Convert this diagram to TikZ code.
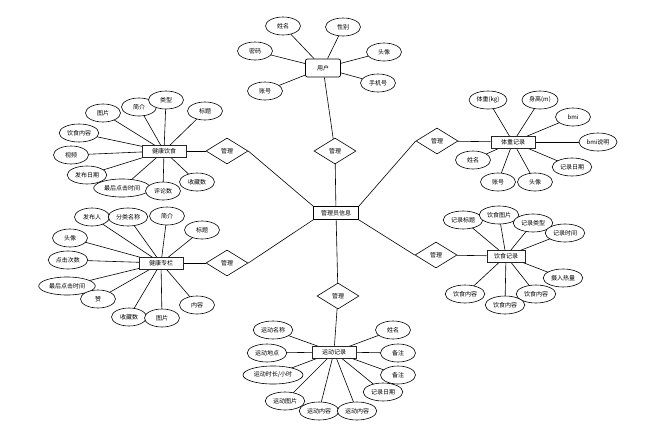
\documentclass[tikz,border=0pt]{standalone}
\usepackage{fontspec}
\setmainfont{Noto Sans CJK SC}
\usetikzlibrary{shapes.geometric,backgrounds}
\begin{document}
\begin{tikzpicture}[x=1pt,y=-1pt,
 txt/.style={font=\fontsize{6}{7}\selectfont},
 attr/.style={ellipse,draw,fill=white,txt,inner xsep=2pt,inner ysep=1pt,minimum width=35pt,minimum height=18pt,line width=0.6pt},
 ent/.style={rectangle,draw=black!85,line width=1pt,fill=white,txt,minimum width=44pt,minimum height=12pt,inner sep=1pt},
 rel/.style={diamond,draw,fill=white,txt,minimum width=42pt,minimum height=26pt,inner sep=0pt,line width=0.6pt},
 conn/.style={line width=0.6pt},
 thickconn/.style={line width=0.9pt}
]
\useasboundingbox (0,0) rectangle (649,429);

% central
\node[rectangle,draw,line width=0.8pt,fill=white,txt,minimum width=45pt,minimum height=13pt,inner sep=1pt] (admin) at (336,213) {管理员信息};

% user
\node[rectangle,rounded corners=2pt,draw,line width=0.7pt,fill=white,txt,minimum width=35pt,minimum height=18pt] (user) at (323,68) {用户};
\node[attr] (u1) at (283,26) {姓名};
\node[attr] (u2) at (343,27) {性别};
\node[attr] (u3) at (255,51) {密码};
\node[attr] (u4) at (384,52) {头像};
\node[attr] (u5) at (265,91) {账号};
\node[attr] (u6) at (378,83) {手机号};
\node[rel] (d1) at (335,151) {管理};

% healthy diet
\node[ent] (hd) at (164,151) {健康饮食};
\node[rel] (d2) at (227,151) {管理};
\node[attr] (a1) at (103,113) {图片};
\node[attr] (a2) at (139,107) {简介};
\node[attr] (a3) at (166,100) {类型};
\node[attr] (a4) at (205,111) {标题};
\node[attr] (a5) at (79,133) {饮食内容};
\node[attr] (a6) at (71,155) {视频};
\node[attr] (a7) at (87,175) {发布日期};
\node[attr] (a8) at (122,188) {最后点击时间};
\node[attr] (a9) at (163,191) {评论数};
\node[attr] (a10) at (197,182) {收藏数};

% health column
\node[ent] (hc) at (161,263) {健康专栏};
\node[rel] (d3) at (227,263) {管理};
\node[attr] (b1) at (92,217) {发布人};
\node[attr] (b2) at (128,217) {分类名称};
\node[attr] (b3) at (167,216) {简介};
\node[attr] (b4) at (202,230) {标题};
\node[attr] (b5) at (70,238) {头像};
\node[attr] (b6) at (68,260) {点击次数};
\node[attr] (b7) at (67,286) {最后点击时间};
\node[attr] (b8) at (98,299) {赞};
\node[attr] (b9) at (129,317) {收藏数};
\node[attr] (b10) at (162,318) {图片};
\node[attr] (b11) at (197,305) {内容};

% weight record
\node[ent] (wr) at (513,142) {体重记录};
\node[rel] (d4) at (437,141) {管理};
\node[attr] (c1) at (488,100) {体重(kg)};
\node[attr] (c2) at (540,100) {身高(m)};
\node[attr] (c3) at (573,117) {bmi};
\node[attr] (c4) at (598,142) {bmi说明};
\node[attr] (c5) at (572,167) {记录日期};
\node[attr] (c6) at (473,160) {姓名};
\node[attr] (c7) at (498,182) {账号};
\node[attr] (c8) at (535,182) {头像};

% diet record
\node[ent,minimum width=38pt] (dr) at (506,256) {饮食记录};
\node[rel] (d5) at (436,255) {管理};
\node[attr] (e1) at (463,220) {记录标题};
\node[attr] (e2) at (499,215) {饮食图片};
\node[attr] (e3) at (533,223) {记录类型};
\node[attr] (e4) at (565,233) {记录时间};
\node[attr] (e5) at (563,278) {摄入热量};
\node[attr] (e6) at (465,294) {饮食内容};
\node[attr] (e8) at (536,294) {饮食内容};
\node[attr] (e7) at (505,305) {饮食内容};

% exercise record
\node[ent] (er) at (334,352) {运动记录};
\node[rel] (d6) at (338,296) {管理};
\node[attr] (f1) at (273,330) {运动名称};
\node[attr] (f2) at (267,353) {运动地点};
\node[attr] (f3) at (273,375) {运动时长/小时};
\node[attr] (f4) at (285,401) {运动图片};
\node[attr] (f5) at (319,411) {运动内容};
\node[attr] (f6) at (357,411) {运动内容};
\node[attr] (f7) at (383,392) {记录日期};
\node[attr] (f8) at (393,330) {姓名};
\node[attr] (f9) at (398,353) {备注};
\node[attr] (f10) at (398,375) {备注};

\begin{scope}[on background layer]
 \foreach \i in {1,...,6} \draw[conn] (user) -- (u\i);
 \draw[conn] (user) -- (d1);
 \draw[conn] (d1) -- (admin);
 \foreach \i in {1,...,10} \draw[conn] (hd.center) -- (a\i.center);
 \draw[thickconn] (hd) -- (d2);
 \draw[conn] (d2.east) -- (admin.north west);
 \foreach \i in {1,...,11} \draw[conn] (hc.center) -- (b\i.center);
 \draw[thickconn] (hc) -- (d3);
 \draw[conn] (d3.east) -- (admin.south west);
 \foreach \i in {1,...,8} \draw[conn] (wr.center) -- (c\i.center);
 \draw[conn] (wr) -- (d4);
 \draw[conn] (d4.west) -- (admin.north east);
 \foreach \i in {1,...,8} \draw[conn] (dr.center) -- (e\i.center);
 \draw[conn] (dr) -- (d5);
 \draw[conn] (d5.west) -- (admin.south east);
 \foreach \i in {1,...,10} \draw[conn] (er.center) -- (f\i.center);
 \draw[conn] (er) -- (d6);
 \draw[conn] (d6) -- (admin);
\end{scope}
\end{tikzpicture}
\end{document}
